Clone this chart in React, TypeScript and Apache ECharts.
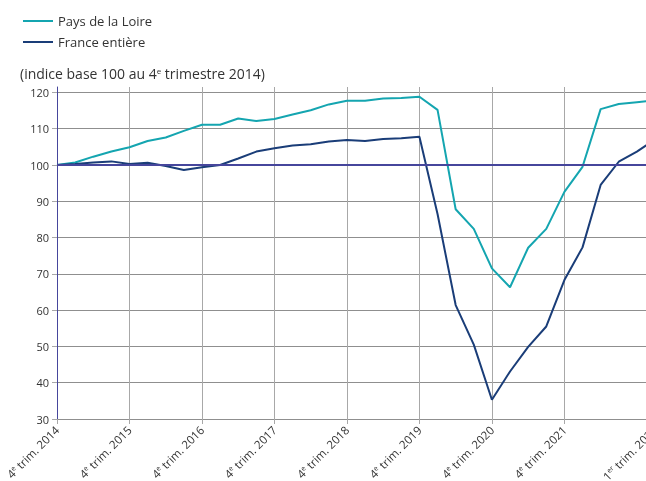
import React, { useEffect, useRef } from "react";
import * as echarts from "echarts";

const categories = [
  "4e trim. 2014",
  "1er trim. 2015", "2e trim. 2015", "3e trim. 2015", "4e trim. 2015",
  "1er trim. 2016", "2e trim. 2016", "3e trim. 2016", "4e trim. 2016",
  "1er trim. 2017", "2e trim. 2017", "3e trim. 2017", "4e trim. 2017",
  "1er trim. 2018", "2e trim. 2018", "3e trim. 2018", "4e trim. 2018",
  "1er trim. 2019", "2e trim. 2019", "3e trim. 2019", "4e trim. 2019",
  "1er trim. 2020", "2e trim. 2020", "3e trim. 2020", "4e trim. 2020",
  "1er trim. 2021", "2e trim. 2021", "3e trim. 2021", "4e trim. 2021",
  "1er trim. 2022", "2e trim. 2022", "3e trim. 2022", "4e trim. 2022",
  "1er trim. 2023",
];

const paysDeLaLoire = [
  100, 100.7, 102.3, 103.7, 104.9, 106.6, 107.6, 109.4, 111.1, 111.1, 112.8,
  112.1, 112.7, 113.9, 115.1, 116.7, 117.7, 117.7, 118.3, 118.5, 118.8, 115.2,
  87.8, 82.4, 71.5, 66.3, 77.2, 82.4, 92.6, 99.5, 115.4, 116.8, 117.3, 117.8,
];

const franceEntiere = [
  100, 100.3, 100.7, 101.0, 100.3, 100.6, 99.7, 98.6, 99.4, 100.0, 101.8,
  103.7, 104.6, 105.4, 105.7, 106.5, 106.9, 106.6, 107.2, 107.4, 107.8, 86.5,
  61.4, 50.5, 35.3, 43.1, 49.9, 55.5, 68.3, 77.3, 94.5, 100.9, 103.7, 107,
];

const yTicks = [30, 40, 50, 60, 70, 80, 90, 100, 110, 120];
const baseValue = 100;
const subtitle = "(indice base 100 au 4{sup|e} trimestre 2014)";

const FONT = "Open Sans";
const CYAN = "#14a5b0";
const NAVY = "#1a3d78";
const BASE = "#46469c";
const GRID = "#a8a8a8";
const TEXT = "#333333";

const showLabel = (idx: number) =>
  (idx % 4 === 0 && idx <= 28) || idx === categories.length - 1;

export default function App() {
  const ref = useRef<HTMLDivElement>(null);

  useEffect(() => {
    if (!ref.current) return;
    const chart = echarts.init(ref.current, null, { renderer: "svg" });
    chart.setOption({
      animation: false,
      textStyle: { fontFamily: FONT },
      title: {
        text: subtitle,
        left: 20,
        top: 66,
        padding: 0,
        textStyle: {
          fontFamily: FONT,
          fontSize: 14,
          fontWeight: "normal",
          color: TEXT,
          rich: {
            sup: { fontFamily: FONT, fontSize: 8, color: TEXT, verticalAlign: "top", lineHeight: 11 },
          },
        },
      },
      legend: {
        orient: "vertical",
        left: 23,
        top: 14,
        padding: 0,
        itemWidth: 30,
        itemHeight: 2,
        itemGap: 7,
        icon: "rect",
        textStyle: { fontFamily: FONT, fontSize: 13, color: TEXT, lineHeight: 14 },
        data: ["Pays de la Loire", "France entière"],
      },
      grid: {
        left: 57,
        right: -9,
        top: 87,
        bottom: 62,
        containLabel: false,
        outerBoundsMode: "none",
      },
      xAxis: {
        type: "category",
        data: categories,
        boundaryGap: false,
        axisLine: { show: true, lineStyle: { color: "#8f8f8f", width: 1 } },
        axisTick: { show: true, length: 5, interval: (i: number) => showLabel(i), lineStyle: { color: GRID } },
        splitLine: { show: true, interval: (i: number) => showLabel(i), lineStyle: { color: GRID, width: 1 } },
        axisLabel: {
          interval: (i: number) => showLabel(i),
          rotate: 45,
          margin: 9,
          fontFamily: FONT,
          fontSize: 11.5,
          color: TEXT,
          formatter: (v: string) => v.replace(/^(\d)(er|e) /, "$1{sup|$2} "),
          rich: {
            sup: { fontFamily: FONT, fontSize: 7, color: TEXT, verticalAlign: "top", lineHeight: 9 },
          },
        },
      },
      yAxis: {
        type: "value",
        min: 30,
        max: 121.5,
        interval: 10,
        axisLine: { show: true, lineStyle: { color: BASE, width: 1 } },
        axisTick: { show: true, length: 5, customValues: yTicks, lineStyle: { color: GRID } },
        axisLabel: {
          customValues: yTicks,
          margin: 8,
          fontFamily: FONT,
          fontSize: 11,
          color: TEXT,
        },
        splitLine: { show: true, lineStyle: { color: "#8f8f8f", width: 1 } },
      },
      series: [
        {
          name: "Pays de la Loire",
          type: "line",
          data: paysDeLaLoire,
          symbol: "none",
          lineStyle: { color: CYAN, width: 2 },
          itemStyle: { color: CYAN },
          z: 3,
        },
        {
          name: "France entière",
          type: "line",
          data: franceEntiere,
          symbol: "none",
          lineStyle: { color: NAVY, width: 2 },
          itemStyle: { color: NAVY },
          z: 3,
          markLine: {
            silent: true,
            symbol: "none",
            label: { show: false },
            lineStyle: { color: BASE, width: 2, type: "solid" },
            data: [{ yAxis: baseValue }],
          },
        },
      ],
    });
    return () => chart.dispose();
  }, []);

  return (
    <div
      ref={ref}
      style={{ position: "fixed", left: 0, top: 0, width: 646, height: 481, overflow: "hidden" }}
    />
  );
}
